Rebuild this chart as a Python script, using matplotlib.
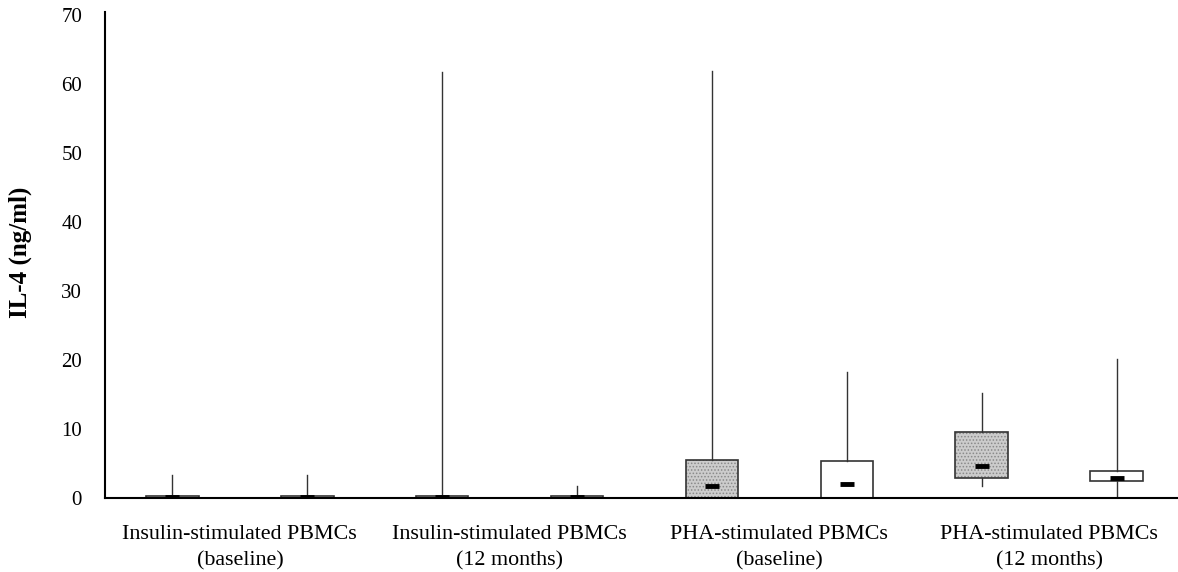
import matplotlib
matplotlib.use('Agg')
import matplotlib.pyplot as plt

plt.rcParams['font.family'] = ['Liberation Serif', 'DejaVu Serif']
plt.rcParams['hatch.linewidth'] = 0.7

# box statistics (ng/ml)
positions = [1, 2, 3, 4, 5, 6, 7, 8]
whis_lo = [0, 0, 0, 0, 0, 0, 1.7, 0]
q1 = [0, 0, 0, 0, 0, 0, 2.9, 2.5]
median = [0.2, 0.2, 0.2, 0.2, 1.7, 2.1, 4.7, 2.9]
q3 = [0.3, 0.3, 0.3, 0.3, 5.5, 5.4, 9.6, 3.9]
whis_hi = [3.4, 3.4, 61.7, 1.8, 61.9, 18.3, 15.2, 20.1]
shaded = [False, False, False, False, True, False, True, False]

group_pos = [1.5, 3.5, 5.5, 7.5]
group_labels = ['Insulin-stimulated PBMCs\n(baseline)',
                'Insulin-stimulated PBMCs\n(12 months)',
                'PHA-stimulated PBMCs\n(baseline)',
                'PHA-stimulated PBMCs\n(12 months)']
yticks = [0, 10, 20, 30, 40, 50, 60, 70]

fig = plt.figure(figsize=(11.78, 5.72), dpi=100)
ax = fig.add_axes([105/1178, 1 - 498/572, 1079/1178, (498-12)/572])

width = 0.39
stats = []
for i in range(len(positions)):
    stats.append(dict(whislo=whis_lo[i], q1=q1[i], med=median[i],
                      q3=q3[i], whishi=whis_hi[i]))

# shaded fill (dotted pattern) under the shaded boxes
for i, p in enumerate(positions):
    if shaded[i]:
        ax.bar(p, q3[i] - q1[i], bottom=q1[i], width=width, color='#cccccc',
               hatch='.....', edgecolor='#8a8a8a', linewidth=0, zorder=1)

ax.bxp(stats, positions=positions, widths=width, showfliers=False,
       showcaps=False, patch_artist=True,
       boxprops=dict(facecolor='none', edgecolor='#333333', linewidth=1.2),
       whiskerprops=dict(color='#333333', linewidth=1.0),
       medianprops=dict(linewidth=0), zorder=2)

ax.plot(positions, median, linestyle='none', marker='_', markersize=10,
        markeredgewidth=3.5, color='black', zorder=3)

ax.set_xlim(0.5, 8.5)
ax.set_ylim(0, 70.4)
ax.set_yticks(yticks)
ax.set_xticks(group_pos)
ax.set_xticklabels(group_labels, fontsize=15.8, linespacing=1.5)
ax.tick_params(axis='x', length=0, pad=19.5)
ax.tick_params(axis='y', length=0, pad=16.5, labelsize=15)
ax.spines['top'].set_visible(False)
ax.spines['right'].set_visible(False)
ax.spines['left'].set_linewidth(1.5)
ax.spines['bottom'].set_linewidth(1.5)
ax.set_ylabel('IL-4 (ng/ml)', fontsize=18, fontweight='bold')
ax.yaxis.set_label_coords(-0.068, 0.506)

plt.savefig('out.png', dpi=100)
